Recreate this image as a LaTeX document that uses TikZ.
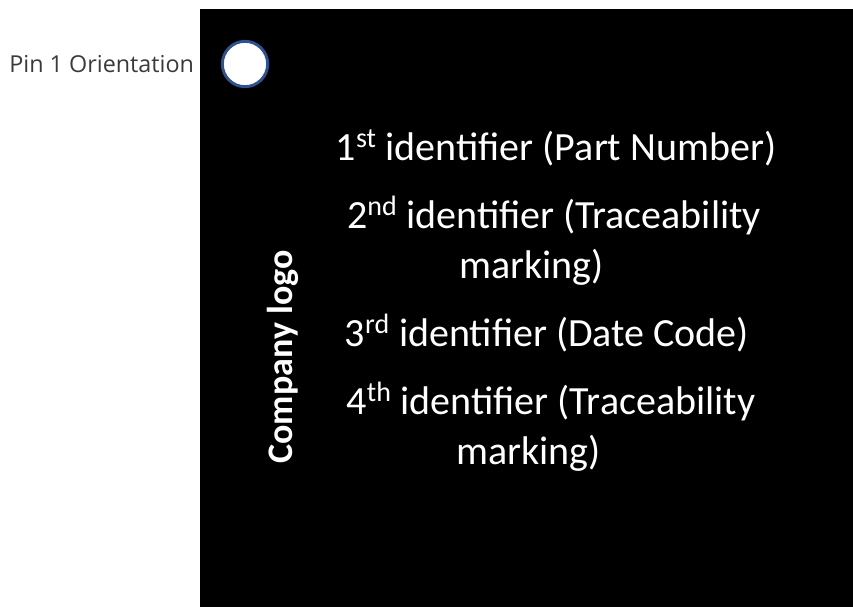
\documentclass[tikz,border=0pt]{standalone}
\usepackage{fontspec}
\setmainfont{Carlito}
\newfontfamily\pinfont{Open Sans}
\usetikzlibrary{positioning}
\definecolor{pinblue}{HTML}{2F528F}
\definecolor{pingray}{HTML}{3A3A3A}
\tikzstyle{every node}=[inner sep=0pt,text=white,font=\fontsize{30}{37.5}\selectfont]
\tikzstyle{ident}=[anchor=base,align=center]

\begin{document}
\begin{tikzpicture}[x=0.75pt,y=-0.75pt]
  \useasboundingbox (0,0) rectangle (853,607);
  \fill[black] (200,9) rectangle (853,607);
  \node [circle,draw=pinblue,line width=2.2pt,fill=white,minimum size=34pt] (pin) at (245,64) {};
  \node [left=20pt of pin,text=pingray,font=\pinfont\fontsize{17.5}{20}\selectfont] (pinlabel) {Pin 1 Orientation};
  \node [rotate=90,font=\bfseries\fontsize{27}{32}\selectfont] (logo) at (283,357) {Company logo};
  % anchor=base sits on the last line
  \node [ident] (first) at (556,160) {1\textsuperscript{st} identifier (Part Number)};
  \node [ident] (second) at (554,278) {2\textsuperscript{nd} identifier (Traceability\\marking)\hspace*{34pt}};
  \node [ident] (third) at (547,346) {3\textsuperscript{rd} identifier (Date Code)};
  \node [ident] (fourth) at (551,464) {4\textsuperscript{th} identifier (Traceability\\marking)\hspace*{34pt}};
\end{tikzpicture}
\end{document}
